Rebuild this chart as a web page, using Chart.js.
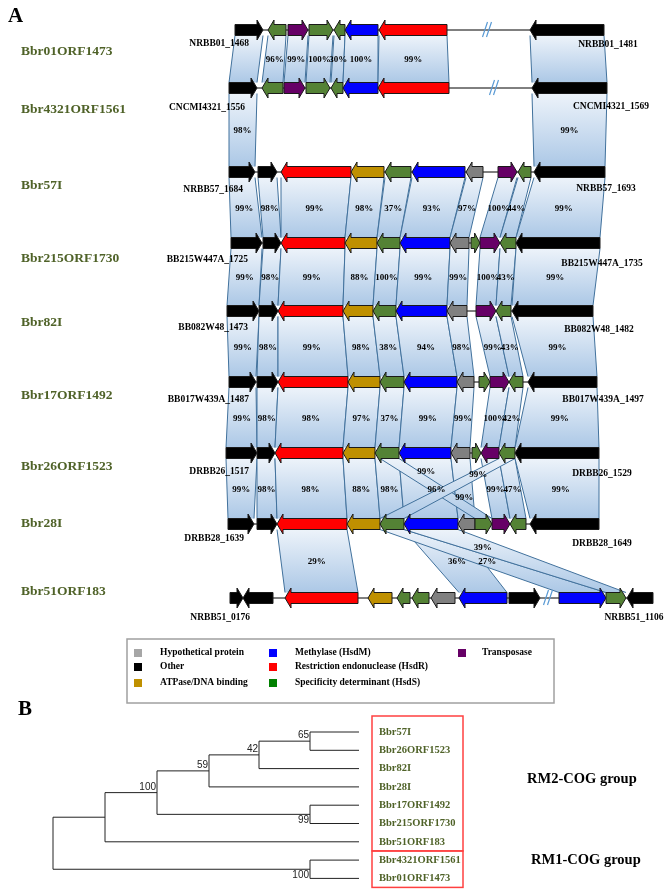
<!DOCTYPE html>
<html>
<head>
<meta charset="utf-8">
<script src="https://cdn.jsdelivr.net/npm/chart.js@4.4.1/dist/chart.umd.min.js"></script>
<style>
  html, body { margin: 0; padding: 0; background: #fff; }
  canvas { display: block; }
</style>
</head>
<body>
<canvas id="fig" width="672" height="892"></canvas>
<script>
// ---- panel A data ----
const strains = ['Bbr01ORF1473', 'Bbr4321ORF1561', 'Bbr57I', 'Bbr215ORF1730', 'Bbr82I',
                 'Bbr17ORF1492', 'Bbr26ORF1523', 'Bbr28I', 'Bbr51ORF183'];
const rowY = [30, 88, 172, 243, 311, 382, 453, 524, 598];
const leftTags = ['NRBB01_1468', 'CNCMI4321_1556', 'NRBB57_1684', 'BB215W447A_1725', 'BB082W48_1473',
                  'BB017W439A_1487', 'DRBB26_1517', 'DRBB28_1639', 'NRBB51_0176'];
const rightTags = ['NRBB01_1481', 'CNCMI4321_1569', 'NRBB57_1693', 'BB215W447A_1735', 'BB082W48_1482',
                   'BB017W439A_1497', 'DRBB26_1529', 'DRBB28_1649', 'NRBB51_1106'];

// genes per row: [start, end, strand, type]
// H hypothetical, O other, A ATPase, M HsdM, R HsdR, S HsdS, T transposase
const genes = [
  [[235,263,1,'O'],[268,286,-1,'S'],[288,308,1,'T'],[309,333,1,'S'],[334,345,-1,'S'],[345,378,-1,'M'],[379,447,-1,'R'],[530,604,-1,'O']],
  [[229,257,1,'O'],[262,283,-1,'S'],[284,305,1,'T'],[306,330,1,'S'],[331,343,-1,'S'],[343,378,-1,'M'],[378,449,-1,'R'],[532,607,-1,'O']],
  [[229,255,1,'O'],[258,277,1,'O'],[281,351,-1,'R'],[351,384,-1,'A'],[385,411,-1,'S'],[412,465,-1,'M'],[466,483,-1,'H'],[498,517,1,'T'],[518,531,-1,'S'],[534,605,-1,'O']],
  [[231,262,1,'O'],[263,281,1,'O'],[281,345,-1,'R'],[345,377,-1,'A'],[377,400,-1,'S'],[400,450,-1,'M'],[450,469,-1,'H'],[471,480,1,'S'],[480,500,1,'T'],[500,516,-1,'S'],[516,600,-1,'O']],
  [[227,259,1,'O'],[259,278,1,'O'],[278,343,-1,'R'],[343,373,-1,'A'],[373,396,-1,'S'],[396,447,-1,'M'],[447,467,-1,'H'],[476,496,1,'T'],[496,511,-1,'S'],[512,593,-1,'O']],
  [[229,256,1,'O'],[257,278,1,'O'],[278,348,-1,'R'],[348,380,-1,'A'],[380,404,-1,'S'],[404,457,-1,'M'],[457,474,-1,'H'],[479,490,1,'S'],[490,509,1,'T'],[509,523,-1,'S'],[528,597,-1,'O']],
  [[226,257,1,'O'],[257,275,1,'O'],[275,343,-1,'R'],[343,375,-1,'A'],[375,399,-1,'S'],[399,451,-1,'M'],[451,470,-1,'H'],[472,481,1,'S'],[481,499,-1,'T'],[499,515,-1,'S'],[515,599,-1,'O']],
  [[228,254,1,'O'],[257,277,1,'O'],[277,347,-1,'R'],[347,380,-1,'A'],[380,404,-1,'S'],[404,458,-1,'M'],[458,475,-1,'H'],[475,492,1,'S'],[492,510,1,'T'],[510,526,-1,'S'],[530,599,-1,'O']],
  [[230,243,1,'O'],[243,273,-1,'O'],[285,358,-1,'R'],[368,392,-1,'A'],[397,410,-1,'S'],[412,429,-1,'S'],[431,455,-1,'H'],[459,507,-1,'M'],[509,540,1,'O'],[559,606,1,'M'],[606,626,1,'S'],[627,653,-1,'O']]
];
// break marks on the backbone: [row, position]
const breaks = [[0,487],[1,494],[8,548]];

// homology links: [rowA, a1, a2, rowB, b1, b2, identity, label position along link]
const links = [
  [0,235,263,1,229,257,''],[0,268,286,1,262,283,'96%'],[0,288,308,1,284,305,'99%'],[0,309,333,1,306,330,'100%'],
  [0,334,345,1,331,343,'30%'],[0,345,378,1,343,378,'100%'],[0,379,447,1,378,449,'99%'],[0,530,604,1,532,607,''],
  [1,229,257,2,229,255,'98%'],[1,532,607,2,534,605,'99%'],
  [2,229,255,3,231,262,'99%'],[2,258,277,3,263,281,'98%'],[2,281,351,3,281,345,'99%'],[2,351,384,3,345,377,'98%'],
  [2,385,411,3,377,400,'37%'],[2,412,465,3,400,450,'93%'],[2,466,483,3,450,469,'97%'],[2,498,517,3,480,500,'100%'],
  [2,518,531,3,500,516,'44%'],[2,534,605,3,516,600,'99%'],
  [3,231,262,4,227,259,'99%'],[3,263,281,4,259,278,'98%'],[3,281,345,4,278,343,'99%'],[3,345,377,4,343,373,'88%'],
  [3,377,400,4,373,396,'100%'],[3,400,450,4,396,447,'99%'],[3,450,469,4,447,467,'99%'],[3,480,500,4,476,496,'100%'],
  [3,500,516,4,496,511,'43%'],[3,516,600,4,512,593,'99%'],
  [4,227,259,5,229,256,'99%'],[4,259,278,5,257,278,'98%'],[4,278,343,5,278,348,'99%'],[4,343,373,5,348,380,'98%'],
  [4,373,396,5,380,404,'38%'],[4,396,447,5,404,457,'94%'],[4,447,467,5,457,474,'98%'],[4,476,496,5,490,509,'99%'],
  [4,496,511,5,509,523,'43%'],[4,512,593,5,528,597,'99%'],
  [5,229,256,6,226,257,'99%'],[5,257,278,6,257,275,'98%'],[5,278,348,6,275,343,'98%'],[5,348,380,6,343,375,'97%'],
  [5,380,404,6,375,399,'37%'],[5,404,457,6,399,451,'99%'],[5,457,474,6,451,470,'99%'],[5,490,509,6,481,499,'100%'],
  [5,509,523,6,499,515,'42%'],[5,528,597,6,515,599,'99%'],
  [6,226,257,7,228,254,'99%'],[6,257,275,7,257,277,'98%'],[6,275,343,7,277,347,'98%'],[6,343,375,7,347,380,'88%'],
  [6,375,399,7,380,404,'98%'],[6,399,451,7,404,458,'99%',0.2],[6,451,470,7,458,475,'99%',0.63],
  [6,481,499,7,492,510,'99%'],[6,499,515,7,510,526,'47%'],[6,515,599,7,530,599,'99%'],
  [6,380,399,7,475,492,'96%'],[6,499,515,7,380,404,'99%',0.25],
  [7,277,347,8,285,358,'29%'],[7,404,458,8,459,507,'36%'],[7,380,404,8,559,606,'27%'],[7,404,458,8,606,626,'39%',0.28]
];

const geneColors = { H: '#808080', O: '#000000', A: '#bf9000', M: '#0000ff', R: '#ff0000', S: '#548235', T: '#660066' };
const legendItems = [
  ['#a6a6a6', 'Hypothetical protein'], ['#000000', 'Other'], ['#bf9000', 'ATPase/DNA binding'],
  ['#0000ff', 'Methylase (HsdM)'], ['#ff0000', 'Restriction endonuclease (HsdR)'], ['#008000', 'Specificity determinant (HsdS)'],
  ['#660066', 'Transposase']
];

// ---- panel B data ----
const treeLeaves = ['Bbr57I', 'Bbr26ORF1523', 'Bbr82I', 'Bbr28I', 'Bbr17ORF1492', 'Bbr215ORF1730',
                    'Bbr51ORF183', 'Bbr4321ORF1561', 'Bbr01ORF1473'];
// node: { x: branch depth, boot: bootstrap, below: label under node, kids }
const tree = { x: 53, kids: [
  { x: 105, kids: [
    { x: 157, boot: 100, kids: [
      { x: 209, boot: 59, kids: [
        { x: 259, boot: 42, kids: [ { x: 310, boot: 65, kids: [0, 1] }, 2 ] },
        3 ] },
      { x: 310, boot: 99, below: true, kids: [4, 5] } ] },
    6 ] },
  { x: 310, boot: 100, below: true, kids: [7, 8] } ] };
const groups = [['RM2-COG group', 0, 6], ['RM1-COG group', 7, 8]];

// layout
const nameY = [52, 110, 186, 259, 323, 396, 467, 524, 592];
const leftTagX = [249, 245, 243, 248, 248, 249, 249, 244, 250];
const leftTagY = [44, 108, 190, 260, 328, 400, 472, 539, 618];
const rightTagX = [608, 611, 606, 602, 599, 603, 602, 602, 634];
const rightTagY = [45, 107, 189, 264, 330, 400, 474, 544, 618];
const leafY0 = 732, leafStep = 18.3, leafEnd = 359;

const SERIF = '"Liberation Serif", "Times New Roman", serif';
const GREEN = '#4f6228';

const figurePlugin = {
  id: 'figure',
  afterDraw(chart) {
    const { ctx, scales: { x, y } } = chart;
    const px = v => x.getPixelForValue(v);
    const py = v => y.getPixelForValue(v);
    const bh = 5.5, hh = 10;

    ctx.save();
    ctx.textBaseline = 'middle';

    // panel letters
    ctx.fillStyle = '#000';
    ctx.font = 'bold 21px ' + SERIF;
    ctx.textAlign = 'left';
    ctx.fillText('A', px(8), py(17));
    ctx.fillText('B', px(18), py(710));

    // strain names
    ctx.fillStyle = GREEN;
    ctx.font = 'bold 13.5px ' + SERIF;
    strains.forEach((s, i) => ctx.fillText(s, px(21), py(nameY[i])));

    // backbone lines
    ctx.strokeStyle = '#000';
    ctx.lineWidth = 1;
    genes.forEach((row, i) => {
      ctx.beginPath();
      ctx.moveTo(px(row[0][0]), py(rowY[i]));
      ctx.lineTo(px(row[row.length - 1][1]), py(rowY[i]));
      ctx.stroke();
    });

    // homology links
    links.forEach(l => {
      const [ra, a1, a2, rb, b1, b2] = l;
      const yt = py(rowY[ra] + bh), yb = py(rowY[rb] - bh);
      const g = ctx.createLinearGradient(0, yt, 0, yb);
      g.addColorStop(0, '#edf3fa');
      g.addColorStop(1, '#acc8e6');
      ctx.fillStyle = g;
      ctx.beginPath();
      ctx.moveTo(px(a1), yt);
      ctx.lineTo(px(a2), yt);
      ctx.lineTo(px(b2), yb);
      ctx.lineTo(px(b1), yb);
      ctx.closePath();
      ctx.fill();
      ctx.strokeStyle = '#41719c';
      ctx.lineWidth = 1;
      ctx.beginPath();
      ctx.moveTo(px(a1), yt); ctx.lineTo(px(b1), yb);
      ctx.moveTo(px(a2), yt); ctx.lineTo(px(b2), yb);
      ctx.stroke();
    });

    // identity labels
    ctx.fillStyle = '#000';
    ctx.font = 'bold 9px ' + SERIF;
    ctx.textAlign = 'center';
    links.forEach(l => {
      const [ra, a1, a2, rb, b1, b2, txt, tt] = l;
      if (!txt) return;
      const t = tt === undefined ? 0.5 : tt;
      const ya = rowY[ra] + bh, yb = rowY[rb] - bh;
      const xm = ((a1 + a2) / 2) * (1 - t) + ((b1 + b2) / 2) * t;
      ctx.fillText(txt, px(xm), py(ya + (yb - ya) * t) + 1);
    });

    // gene arrows
    genes.forEach((row, i) => {
      const yc = py(rowY[i]);
      row.forEach(([s, e, dir, type]) => {
        const xs = px(s), xe = px(e);
        const hl = Math.min(6, (xe - xs) * 0.6);
        ctx.beginPath();
        if (dir > 0) {
          ctx.moveTo(xs, yc - bh); ctx.lineTo(xe - hl, yc - bh); ctx.lineTo(xe - hl, yc - hh);
          ctx.lineTo(xe, yc); ctx.lineTo(xe - hl, yc + hh); ctx.lineTo(xe - hl, yc + bh); ctx.lineTo(xs, yc + bh);
        } else {
          ctx.moveTo(xe, yc - bh); ctx.lineTo(xs + hl, yc - bh); ctx.lineTo(xs + hl, yc - hh);
          ctx.lineTo(xs, yc); ctx.lineTo(xs + hl, yc + hh); ctx.lineTo(xs + hl, yc + bh); ctx.lineTo(xe, yc + bh);
        }
        ctx.closePath();
        ctx.fillStyle = geneColors[type];
        ctx.fill();
        ctx.strokeStyle = '#1a1a1a';
        ctx.lineWidth = 1;
        ctx.stroke();
      });
    });

    // break marks
    ctx.strokeStyle = '#5b9bd5';
    ctx.lineWidth = 1.2;
    breaks.forEach(([r, bx]) => {
      const yc = py(rowY[r]);
      ctx.beginPath();
      [-2, 2].forEach(d => {
        ctx.moveTo(px(bx + d - 2.5), yc + 7);
        ctx.lineTo(px(bx + d + 2.5), yc - 8);
      });
      ctx.stroke();
    });

    // locus tags
    ctx.fillStyle = '#000';
    ctx.font = 'bold 9.5px ' + SERIF;
    ctx.textAlign = 'right';
    leftTags.forEach((t, i) => ctx.fillText(t, px(leftTagX[i]), py(leftTagY[i])));
    ctx.textAlign = 'center';
    rightTags.forEach((t, i) => ctx.fillText(t, px(rightTagX[i]), py(rightTagY[i])));

    // legend box
    ctx.strokeStyle = '#a0a0a0';
    ctx.lineWidth = 1.5;
    ctx.strokeRect(px(127), py(639), px(554) - px(127), py(703) - py(639));
    ctx.font = 'bold 9.5px ' + SERIF;
    ctx.textAlign = 'left';
    const colMark = [138, 273, 462], colText = [160, 295, 482], rowLeg = [653, 667, 683];
    legendItems.forEach(([c, label], k) => {
      const col = Math.floor(k / 3), r = k % 3;
      ctx.fillStyle = c;
      ctx.fillRect(px(colMark[col] - 4), py(rowLeg[r]) - 4, 8, 8);
      ctx.fillStyle = '#000';
      ctx.fillText(label, px(colText[col]), py(rowLeg[r]));
    });

    // ---- panel B: tree ----
    const leafY = i => leafY0 + i * leafStep;
    const setY = n => {
      if (typeof n === 'number') return leafY(n);
      const ys = n.kids.map(setY);
      n.y = (ys[0] + ys[ys.length - 1]) / 2;
      return n.y;
    };
    setY(tree);
    ctx.strokeStyle = '#222';
    ctx.lineWidth = 1;
    ctx.font = '10px "Liberation Sans Narrow", "Liberation Sans", Arial, sans-serif';
    const drawNode = n => {
      const kidsY = n.kids.map(k => (typeof k === 'number' ? leafY(k) : k.y));
      ctx.beginPath();
      ctx.moveTo(px(n.x), py(kidsY[0]));
      ctx.lineTo(px(n.x), py(kidsY[kidsY.length - 1]));
      n.kids.forEach((k, j) => {
        const kx = typeof k === 'number' ? leafEnd : k.x;
        ctx.moveTo(px(n.x), py(kidsY[j]));
        ctx.lineTo(px(kx), py(kidsY[j]));
      });
      ctx.stroke();
      if (n.boot !== undefined) {
        ctx.fillStyle = '#222';
        ctx.textAlign = 'right';
        ctx.textBaseline = n.below ? 'top' : 'alphabetic';
        ctx.fillText(String(n.boot), px(n.x) - 1, py(n.y) + (n.below ? 1 : -3));
      }
      n.kids.forEach(k => { if (typeof k !== 'number') drawNode(k); });
    };
    drawNode(tree);

    ctx.textBaseline = 'middle';
    ctx.textAlign = 'left';
    ctx.fillStyle = GREEN;
    ctx.font = 'bold 10.5px ' + SERIF;
    treeLeaves.forEach((s, i) => ctx.fillText(s, px(379), py(leafY(i))));

    // group boxes
    ctx.strokeStyle = '#ff4040';
    ctx.lineWidth = 1.5;
    const bx1 = px(372), bx2 = px(463);
    const edges = [leafY(0) - 16, (leafY(6) + leafY(7)) / 2, leafY(8) + 9];
    ctx.strokeRect(bx1, py(edges[0]), bx2 - bx1, py(edges[1]) - py(edges[0]));
    ctx.strokeRect(bx1, py(edges[1]), bx2 - bx1, py(edges[2]) - py(edges[1]));
    ctx.fillStyle = '#000';
    ctx.font = 'bold 14.5px ' + SERIF;
    ctx.fillText(groups[0][0], px(527), py((leafY(groups[0][1]) + leafY(groups[0][2])) / 2 - 8));
    ctx.fillText(groups[1][0], px(531), py((leafY(groups[1][1]) + leafY(groups[1][2])) / 2 - 9));

    ctx.restore();
  }
};

new Chart(document.getElementById('fig'), {
  type: 'scatter',
  data: { datasets: [] },
  options: {
    responsive: false,
    animation: false,
    devicePixelRatio: 1,
    layout: { padding: 0 },
    plugins: { legend: { display: false }, tooltip: { enabled: false } },
    scales: {
      x: { type: 'linear', min: 0, max: 672, display: false },
      y: { type: 'linear', min: 0, max: 892, reverse: true, display: false }
    }
  },
  plugins: [figurePlugin]
});
</script>
</body>
</html>
